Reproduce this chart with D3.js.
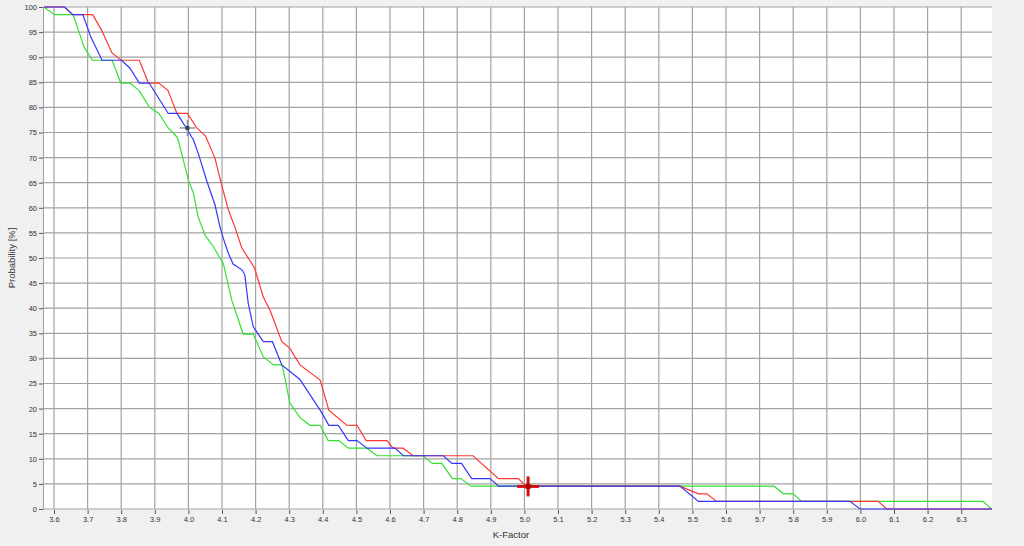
<!DOCTYPE html>
<html>
<head>
<meta charset="utf-8">
<script src="https://cdn.jsdelivr.net/npm/d3@7"></script>
<style>
  html, body { margin: 0; padding: 0; background: #f0f0f0; }
  svg { display: block; }
</style>
</head>
<body>
<svg id="chart" width="1024" height="546"></svg>
<script>
// ---- data ----
const xTicks = [3.6,3.7,3.8,3.9,4.0,4.1,4.2,4.3,4.4,4.5,4.6,4.7,4.8,4.9,5.0,5.1,5.2,5.3,5.4,5.5,5.6,5.7,5.8,5.9,6.0,6.1,6.2,6.3];
const yTicks = [0,5,10,15,20,25,30,35,40,45,50,55,60,65,70,75,80,85,90,95,100];

const redX = [3.570,3.631,3.656,3.715,3.743,3.772,3.799,3.854,3.881,3.912,3.939,3.966,3.997,4.025,4.051,4.079,4.099,4.119,4.139,4.159,4.178,4.197,4.223,4.243,4.278,4.302,4.332,4.392,4.418,4.471,4.502,4.529,4.591,4.609,4.639,4.669,4.847,4.923,4.982,5.005,5.463,5.518,5.543,5.572,6.053,6.078,6.392];
const redY = [100,100,98.48,98.48,95.2,90.9,89.39,89.39,84.85,84.85,83.4,78.79,78.79,75.9,74.3,69.9,64.5,59.6,56.0,52.0,50.0,48.0,42.2,39.6,33.33,32.0,28.7,25.7,19.7,16.7,16.67,13.64,13.64,12.12,12.12,10.61,10.61,6.06,6.06,4.55,4.55,3.03,3.03,1.52,1.52,0,0];

const greenX = [3.570,3.601,3.657,3.679,3.689,3.714,3.773,3.799,3.826,3.854,3.883,3.912,3.941,3.957,3.968,3.985,4.000,4.015,4.029,4.049,4.074,4.094,4.104,4.129,4.139,4.163,4.193,4.223,4.253,4.279,4.302,4.332,4.362,4.392,4.416,4.448,4.476,4.531,4.561,4.699,4.726,4.754,4.786,4.811,4.841,5.743,5.771,5.800,5.825,6.364,6.391];
const greenY = [100,98.48,98.48,94.1,92.1,89.39,89.39,84.85,84.85,83.3,80.1,78.79,75.8,74.8,73.9,69.5,65.5,62.9,58.2,54.6,52.3,50.0,48.9,41.6,39.6,34.85,34.85,30.3,28.7,28.7,21.1,18.2,16.67,16.67,13.64,13.64,12.12,12.12,10.61,10.61,9.09,9.09,6.06,6.06,4.55,4.55,3.03,3.03,1.52,1.52,0];

const blueX = [3.570,3.631,3.656,3.686,3.709,3.743,3.801,3.826,3.854,3.883,3.940,3.966,3.993,4.015,4.029,4.054,4.079,4.094,4.104,4.119,4.133,4.160,4.168,4.178,4.193,4.223,4.250,4.278,4.332,4.395,4.418,4.446,4.476,4.502,4.531,4.615,4.640,4.759,4.784,4.813,4.843,4.898,4.923,5.463,5.518,5.969,5.999,6.392];
const blueY = [100,100,98.48,98.48,94.1,89.39,89.39,87.8,84.85,84.85,78.79,78.79,76.0,73.5,70.9,65.5,60.6,56.2,53.9,50.9,48.8,47.6,46.6,41.0,36.3,33.33,33.33,28.7,25.8,19.4,16.67,16.67,13.64,13.64,12.12,12.12,10.61,10.61,9.09,9.09,6.06,6.06,4.55,4.55,1.52,1.52,0,0];

const cursorPoint = [3.997, 75.9];
const markerPoint = [5.011, 4.5];

// ---- layout ----
const svg = d3.select("#chart");
const pL = 44, pR = 992, pT = 7, pB = 509;
const x = d3.scaleLinear().domain([3.5702, 6.3917]).range([pL, pR]);
const y = d3.scaleLinear().domain([0, 100]).range([pB, pT]);

svg.append("rect").attr("x", 0).attr("y", 0).attr("width", 1024).attr("height", 546).attr("fill", "#f0f0f0");
svg.append("rect").attr("x", pL).attr("y", pT).attr("width", pR - pL).attr("height", pB - pT).attr("fill", "#ffffff");

// grid
const grid = svg.append("g").attr("stroke", "#a2a2a2").attr("stroke-width", 1.2);
grid.selectAll("line.v").data(xTicks).join("line").attr("class", "v")
  .attr("x1", d => x(d)).attr("x2", d => x(d)).attr("y1", pT).attr("y2", pB);
grid.selectAll("line.h").data(yTicks).join("line").attr("class", "h")
  .attr("x1", pL).attr("x2", pR).attr("y1", d => y(d)).attr("y2", d => y(d));

// axes
const font = "Liberation Sans, Arial, sans-serif";
const yAxis = d3.axisLeft(y).tickValues(yTicks).tickSize(4).tickPadding(2).tickFormat(d3.format("d"));
const gy = svg.append("g").attr("transform", `translate(${pL - 1},0)`).call(yAxis);
gy.select(".domain").attr("stroke", "#a0a0a0");
gy.selectAll(".tick line").attr("stroke", "#555");
gy.selectAll("text").attr("fill", "#333").style("font-family", font).style("font-size", "7.5px");

const xAxis = d3.axisBottom(x).tickValues(xTicks).tickSize(4).tickPadding(3).tickFormat(d3.format(".1f"));
const gx = svg.append("g").attr("transform", `translate(0,${pB + 1})`).call(xAxis);
gx.select(".domain").remove();
gx.selectAll(".tick line").attr("stroke", "#555");
gx.selectAll("text").attr("fill", "#333").style("font-family", font).style("font-size", "7.5px");

// axis titles
svg.append("text").attr("x", (pL + pR) / 2 - 7).attr("y", 538).attr("text-anchor", "middle")
  .attr("fill", "#333").style("font-family", font).style("font-size", "9.5px").text("K-Factor");
svg.append("text").attr("transform", `translate(15,${(pT + pB) / 2}) rotate(-90)`).attr("text-anchor", "middle")
  .attr("fill", "#333").style("font-family", font).style("font-size", "9.5px").text("Probability [%]");

// series
const line = d3.line().x(d => x(d[0])).y(d => y(d[1]));
const series = [
  { xs: greenX, ys: greenY, color: "#33e033" },
  { xs: redX, ys: redY, color: "#ff3535" },
  { xs: blueX, ys: blueY, color: "#3535ff" }
];
svg.append("g").selectAll("path").data(series).join("path")
  .attr("d", s => line(s.xs.map((v, i) => [v, s.ys[i]])))
  .attr("fill", "none").attr("stroke", s => s.color).attr("stroke-width", 1.2);

// cursor crosshair
const cx = x(cursorPoint[0]), cy = y(cursorPoint[1]);
const cur = svg.append("g");
cur.append("line").attr("x1", cx - 8).attr("x2", cx + 8).attr("y1", cy).attr("y2", cy).attr("stroke", "#8a9aa2").attr("stroke-width", 1.5);
cur.append("line").attr("x1", cx).attr("x2", cx).attr("y1", cy - 8).attr("y2", cy + 8).attr("stroke", "#8a9aa2").attr("stroke-width", 1.5);
cur.append("rect").attr("x", cx - 2).attr("y", cy - 2).attr("width", 4).attr("height", 4).attr("fill", "#2c4a4a");

// red marker cross
const mx = x(markerPoint[0]), my = y(markerPoint[1]);
const mk = svg.append("g");
mk.append("line").attr("x1", mx - 11).attr("x2", mx + 11).attr("y1", my).attr("y2", my).attr("stroke", "#d01010").attr("stroke-width", 3);
mk.append("line").attr("x1", mx).attr("x2", mx).attr("y1", my - 10).attr("y2", my + 10).attr("stroke", "#d01010").attr("stroke-width", 3);
mk.append("rect").attr("x", mx - 2.5).attr("y", my - 2.5).attr("width", 5).attr("height", 5).attr("fill", "#b00000");
</script>
</body>
</html>
